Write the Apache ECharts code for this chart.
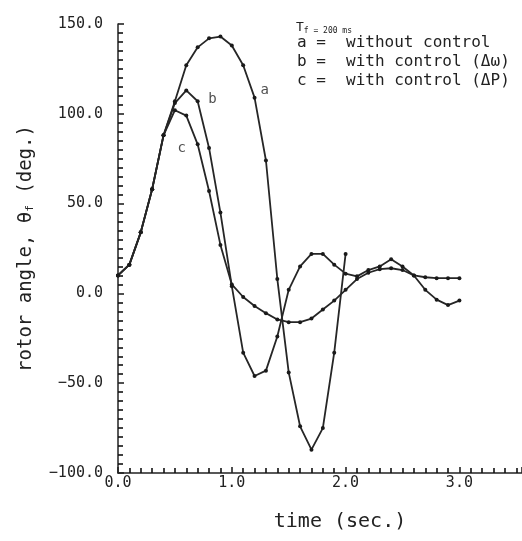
<!DOCTYPE html>
<html>
<head>
<meta charset="utf-8">
<script src="https://cdn.jsdelivr.net/npm/echarts@6/dist/echarts.min.js"></script>
<style>
  html, body { margin: 0; padding: 0; background: #ffffff; }
  #chart { width: 522px; height: 541px; }
</style>
</head>
<body>
<div id="chart"></div>
<script>
// Rotor angle swing after a fault, Tf = 200 ms, sampled every 0.1 s.
// Curve a: without control (ends at 2.0 s)
const timeA = [0.0, 0.1, 0.2, 0.3, 0.4, 0.5, 0.6, 0.7, 0.8, 0.9, 1.0,
               1.1, 1.2, 1.3, 1.4, 1.5, 1.6, 1.7, 1.8, 1.9, 2.0];
const angleA = [10, 16, 34, 58, 88, 107, 127, 137, 142, 143, 138,
                127, 109, 74, 8, -44, -74, -87, -75, -33, 22];

// Curves b and c share the same time base
const timeBC = [0.0, 0.1, 0.2, 0.3, 0.4, 0.5, 0.6, 0.7, 0.8, 0.9, 1.0,
                1.1, 1.2, 1.3, 1.4, 1.5, 1.6, 1.7, 1.8, 1.9, 2.0,
                2.1, 2.2, 2.3, 2.4, 2.5, 2.6, 2.7, 2.8, 2.9, 3.0];
// Curve b: with control (Δω)
const angleB = [10, 16, 34, 58, 88, 106, 113, 107, 81, 45, 4,
                -33, -46, -43, -24, 2, 15, 22, 22, 16, 11,
                9.5, 13, 15, 19, 15, 10, 2, -3.5, -6.5, -4];
// Curve c: with control (ΔP)
const angleC = [10, 16, 34, 58, 88, 102, 99, 83, 57, 27, 5,
                -2, -7, -11, -14.5, -16, -16, -14, -9, -4, 2,
                8, 11.5, 13.5, 14, 13, 10, 9, 8.5, 8.5, 8.5];

// Letters written next to each curve
const tagTime = [1.29, 0.83, 0.56];
const tagAngle = [113, 108, 81];
const tagText = ['a', 'b', 'c'];

// Key in the upper right corner
const keyLetters = ['a', 'b', 'c'];
const keyTexts = ['without control', 'with control (Δω)', 'with control (ΔP)'];

const FONT = '"DejaVu Sans Mono", monospace';
const INK = '#222222';

const pairs = (ts, vs) => ts.map((t, i) => [t, vs[i]]);

const chart = echarts.init(document.getElementById('chart'), null, { renderer: 'canvas' });

const lineSeries = (name, data) => ({
  name: name,
  type: 'line',
  data: data,
  symbol: 'circle',
  symbolSize: 4,
  showSymbol: true,
  lineStyle: { color: '#262626', width: 1.8 },
  itemStyle: { color: '#1a1a1a' },
  emphasis: { disabled: true },
  animation: false,
  z: 3
});

const keyGraphics = [];
keyGraphics.push({
  type: 'text',
  x: 296,
  y: 28,
  style: {
    text: '{t|T}{s|f}{e| = 200 ms}',
    verticalAlign: 'middle',
    rich: {
      t: { fontFamily: FONT, fontSize: 13, fill: INK },
      s: { fontFamily: FONT, fontSize: 8, fill: INK, verticalAlign: 'bottom', padding: [6, 0, 0, 0] },
      e: { fontFamily: FONT, fontSize: 8, fill: INK, verticalAlign: 'bottom', padding: [6, 0, 0, 0] }
    }
  }
});
keyLetters.forEach((k, i) => {
  const y = 43 + 19 * i;
  keyGraphics.push({
    type: 'text', x: 297, y: y,
    style: { text: k, fontFamily: FONT, fontSize: 16, fill: INK, align: 'left', verticalAlign: 'middle' }
  });
  keyGraphics.push({
    type: 'text', x: 321, y: y,
    style: { text: '=', fontFamily: FONT, fontSize: 16, fill: INK, align: 'center', verticalAlign: 'middle' }
  });
  keyGraphics.push({
    type: 'text', x: 346, y: y,
    style: { text: keyTexts[i], fontFamily: FONT, fontSize: 16, fill: INK, align: 'left', verticalAlign: 'middle' }
  });
});

const axisCommon = {
  type: 'value',
  axisLine: { show: true, onZero: false, lineStyle: { color: INK, width: 1.5 } },
  axisTick: { show: true, inside: true, length: 6, lineStyle: { color: INK, width: 1.6 } },
  minorTick: { show: true, splitNumber: 10, length: 5, lineStyle: { color: '#111111', width: 1.6 } },
  splitLine: { show: false },
  minorSplitLine: { show: false }
};

chart.setOption({
  backgroundColor: '#ffffff',
  animation: false,
  textStyle: { fontFamily: FONT, color: INK },
  grid: { left: 118, right: 0, top: 24, bottom: 68, containLabel: false },
  xAxis: Object.assign({}, axisCommon, {
    min: 0,
    max: 3.55,
    interval: 1,
    axisLabel: {
      margin: 3,
      fontFamily: FONT,
      fontSize: 15,
      color: INK,
      showMaxLabel: false,
      formatter: v => v.toFixed(1)
    },
    name: 'time (sec.)',
    nameLocation: 'middle',
    nameGap: 39,
    nameTextStyle: { fontFamily: FONT, fontSize: 20, color: INK, padding: [0, 0, 0, 40] }
  }),
  yAxis: Object.assign({}, axisCommon, {
    min: -100,
    max: 150,
    interval: 50,
    axisLabel: {
      margin: 15,
      fontFamily: FONT,
      fontSize: 15,
      color: INK,
      formatter: v => (v < 0 ? '\u2212' : '') + Math.abs(v).toFixed(1)
    },
    name: '{m|rotor angle, \u03b8}{s|f}{m| (deg.)}',
    nameLocation: 'middle',
    nameGap: 82,
    nameTextStyle: {
      rich: {
        m: { fontFamily: FONT, fontSize: 19, color: INK },
        s: { fontFamily: FONT, fontSize: 11, color: INK, verticalAlign: 'bottom' }
      }
    }
  }),
  graphic: keyGraphics,
  series: [
    lineSeries('a', pairs(timeA, angleA)),
    lineSeries('b', pairs(timeBC, angleB)),
    lineSeries('c', pairs(timeBC, angleC)),
    {
      name: 'tags',
      type: 'scatter',
      symbolSize: 0,
      silent: true,
      animation: false,
      data: tagTime.map((t, i) => ({ value: [t, tagAngle[i]], name: tagText[i] })),
      label: {
        show: true,
        position: 'inside',
        formatter: '{b}',
        fontFamily: FONT,
        fontSize: 14,
        color: INK
      },
      z: 4
    }
  ]
});
</script>
</body>
</html>
